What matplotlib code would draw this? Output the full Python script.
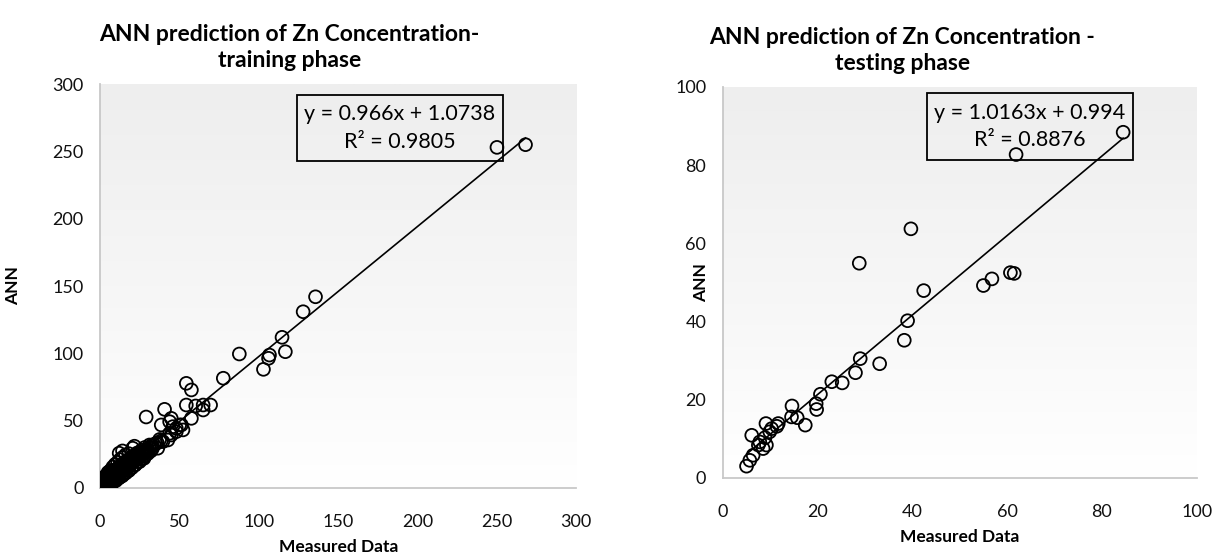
import matplotlib.pyplot as plt
import numpy as np
from matplotlib.colors import LinearSegmentedColormap
from matplotlib.patches import Rectangle

# ---- training phase ----
train_measured = [
    268, 250, 135.7, 127.9, 114.6, 116.7, 106.7, 106.1, 102.9, 87.7, 77.6,
    54.3, 57.5, 54.3, 60.2, 64.9, 69.6, 64.9, 57.5, 40.6, 29.0, 44.8, 38.5,
    51.2, 48.0, 43.8, 42.7, 38.5, 43.8, 45.8, 48.0, 44.8, 50.1, 52.2, 21.6,
    14.1, 20.5, 12.0, 36.3, 31.1, 39.5, 33.0, 35.0, 30.0, 28.0, 26.0, 25.0,
    24.0, 23.0,
    0.5, 0.7, 1.0, 1.2, 1.4, 1.6, 1.8, 2.0, 2.2, 2.4, 2.6, 2.8, 3.0, 3.2,
    3.5, 3.7, 4.0, 4.2, 4.5, 4.8, 5.0, 5.3, 5.6, 5.9, 6.2, 6.5, 6.8, 7.1,
    7.4, 7.7, 8.0, 8.3, 8.6, 9.0, 9.3, 9.6, 10.0, 10.3, 10.7, 11.0, 11.4,
    11.8, 12.2, 12.6, 13.0, 13.5, 14.0, 14.5, 15.0, 15.5, 16.0, 16.6, 17.2,
    17.8, 18.4, 19.0, 19.7, 20.4, 21.0, 21.8, 22.5, 23.3, 24.0, 25.0, 26.0,
    27.0, 28.0, 29.5, 31.0, 32.5, 34.0,
    2.0, 3.5, 5.0, 6.5, 8.0, 9.5, 11.0, 12.5, 14.0, 16.0, 18.0,
    4.0, 6.0, 8.0, 10.0, 12.0, 14.0, 16.0, 18.0, 20.0, 22.0, 24.0, 26.0,
    28.0, 30.0, 32.0,
    0.3, 0.6, 0.9, 1.1, 1.5, 1.9, 2.3, 2.7, 3.1, 3.4, 3.9, 4.4, 4.9, 5.4,
    6.0, 6.6, 7.2, 7.8, 8.4, 9.0, 9.6, 10.2, 10.9, 11.6, 12.3, 13.0, 13.8,
    14.6, 15.4, 16.3, 17.2, 18.1, 19.1, 20.1, 21.2, 22.3, 23.5, 24.8, 26.2,
    27.6, 29.0, 30.5, 33.0, 36.0, 37.5,
]
train_ann = [
    255, 253, 142.0, 130.9, 111.9, 101.2, 98.7, 96.3, 88.1, 99.5, 81.5,
    77.7, 72.8, 61.6, 60.9, 61.6, 61.6, 57.9, 51.7, 58.4, 52.7, 51.7, 46.8,
    46.8, 44.3, 40.6, 35.6, 35.0, 49.2, 45.5, 41.8, 39.3, 46.8, 43.1, 31.0,
    27.5, 29.5, 25.8, 29.5, 31.9, 34.4, 31.0, 33.0, 28.0, 30.0, 27.0, 24.0,
    26.0, 22.0,
    1.2, 0.5, 2.5, 1.0, 3.0, 2.0, 0.8, 3.5, 2.2, 4.5, 1.8, 3.8, 5.0, 2.8,
    4.2, 6.0, 3.5, 5.5, 4.8, 7.0, 5.5, 4.0, 6.5, 8.0, 6.0, 7.5, 5.2, 8.5,
    7.2, 9.5, 8.0, 6.5, 10.0, 9.0, 11.0, 8.2, 10.5, 12.5, 9.5, 11.8, 13.5,
    10.8, 12.5, 14.5, 11.5, 13.8, 15.5, 12.8, 16.0, 14.5, 17.5, 15.0, 18.0,
    16.5, 19.5, 17.5, 20.5, 19.0, 22.0, 20.0, 23.5, 21.5, 25.0, 23.0, 26.5,
    25.5, 27.0, 28.5, 30.0, 31.5, 32.0,
    6.5, 9.0, 11.5, 13.0, 15.5, 17.5, 19.0, 21.0, 22.5, 24.5, 25.5,
    1.5, 2.5, 4.0, 5.5, 7.5, 9.0, 11.0, 13.0, 15.0, 17.0, 19.5, 21.5,
    23.5, 25.5, 27.5,
    2.0, 3.5, 4.8, 0.3, 5.5, 1.2, 6.0, 0.9, 7.0, 1.6, 8.0, 2.2, 9.5, 2.8,
    10.5, 3.3, 11.5, 4.5, 12.5, 5.5, 13.5, 6.5, 14.5, 7.5, 16.0, 8.5, 17.5,
    10.0, 19.0, 11.5, 20.5, 13.0, 22.0, 15.5, 24.0, 17.5, 26.0, 19.5, 28.0,
    22.0, 26.5, 27.0, 29.5, 33.5, 36.0,
]
train_slope, train_icpt, train_r2 = 0.966, 1.0738, 0.9805

# ---- testing phase ----
test_measured = [
    84.5, 61.9, 39.7, 28.8, 42.4, 60.7, 61.5, 56.8, 55.0, 39.0, 38.3, 33.1,
    29.0, 28.0, 25.2, 23.0, 20.6, 19.8, 19.7, 17.4, 15.7, 14.6, 14.5, 11.7,
    11.4, 9.1, 9.9, 6.1, 7.8, 9.2, 8.5, 7.5, 6.4, 5.7, 5.0, 10.3, 8.9,
]
test_ann = [
    88.4, 82.7, 63.7, 54.9, 47.9, 52.5, 52.3, 50.9, 49.2, 40.2, 35.2, 29.2,
    30.5, 26.9, 24.3, 24.6, 21.4, 17.5, 19.0, 13.5, 15.4, 18.4, 15.6, 13.9,
    13.2, 13.9, 11.8, 10.9, 9.2, 8.4, 7.5, 8.4, 5.8, 4.5, 3.0, 12.6, 10.3,
]
test_slope, test_icpt, test_r2 = 1.0163, 0.994, 0.8876

plt.rcParams["font.family"] = ["Lato", "DejaVu Sans"]

bg = LinearSegmentedColormap.from_list("bg", ["#eeeeee", "#f6f6f6", "#ffffff"])
fig = plt.figure(figsize=(12.21, 5.57), dpi=100)


def draw_panel(rect, xs, ys, slope, icpt, r2, xmax, ymax, step_x, step_y,
               title, title_xy, box, ylabel_x):
    ax = fig.add_axes(rect)
    ax.imshow(np.linspace(0, 1, 256).reshape(-1, 1), extent=[0, 1, 0, 1],
              transform=ax.transAxes, cmap=bg, aspect="auto", zorder=0)
    ax.scatter(xs, ys, s=85, facecolors="none", edgecolors="black",
               linewidths=1.3, zorder=4)
    lx = np.array([min(xs), max(xs)])
    ax.plot(lx, slope * lx + icpt, color="black", lw=1.2, zorder=3)
    ax.set_xlim(0, xmax)
    ax.set_ylim(0, ymax)
    ax.set_xticks(np.arange(0, xmax + 1, step_x))
    ax.set_yticks(np.arange(0, ymax + 1, step_y))
    for s in ("top", "right"):
        ax.spines[s].set_visible(False)
    for s in ("left", "bottom"):
        ax.spines[s].set_color("#c8c8c8")
        ax.spines[s].set_linewidth(1.3)
    ax.tick_params(length=0, labelsize=13, colors="#111111")
    ax.tick_params(axis="x", pad=19)
    ax.tick_params(axis="y", pad=12)
    ax.set_xlabel("Measured Data", fontsize=12.5, fontweight="bold", labelpad=6)
    ax.set_ylabel("ANN", fontsize=12.5, fontweight="bold")
    ax.yaxis.set_label_coords(ylabel_x, 0.5)
    fig.text(title_xy[0], title_xy[1], title, ha="center", va="center",
             fontsize=16.5, fontweight="bold", linespacing=1.3)
    bx, by, bw, bh = box
    ax.add_patch(Rectangle((bx, by), bw, bh, transform=ax.transAxes,
                           facecolor="none", edgecolor="black", lw=1.3,
                           zorder=2))
    ax.text(bx + bw / 2, by + bh / 2, f"y = {slope}x + {icpt}\nR² = {r2}",
            transform=ax.transAxes, ha="center", va="center", fontsize=15.5,
            linespacing=1.45, zorder=2)
    return ax


draw_panel([0.082, 0.124, 0.390, 0.725], train_measured, train_ann,
           train_slope, train_icpt, train_r2, 300, 300, 50, 50,
           "ANN prediction of Zn Concentration-\ntraining phase",
           (0.237, 0.915), (0.414, 0.81, 0.431, 0.163), -0.165)
draw_panel([0.592, 0.142, 0.388, 0.702], test_measured, test_ann,
           test_slope, test_icpt, test_r2, 100, 100, 20, 20,
           "ANN prediction of Zn Concentration -\ntesting phase",
           (0.739, 0.91), (0.432, 0.813, 0.433, 0.172), -0.03)

fig.savefig("out.png", dpi=100)
